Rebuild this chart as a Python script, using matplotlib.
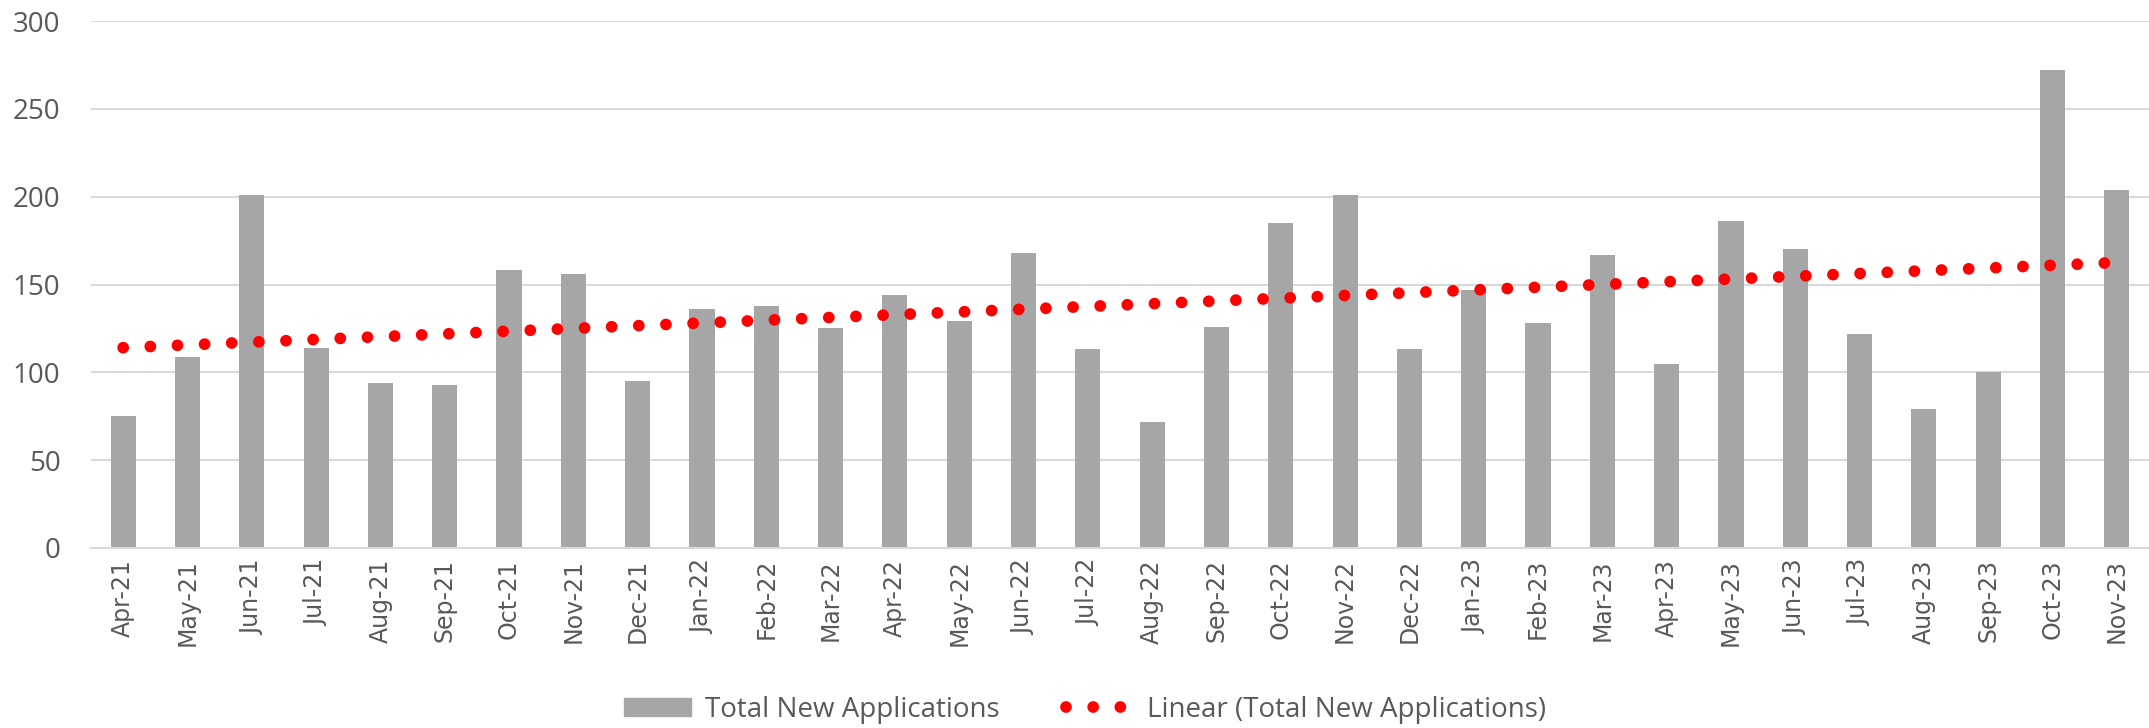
import numpy as np
import matplotlib
matplotlib.use('Agg')
from matplotlib import pyplot as plt
from matplotlib.lines import Line2D
from matplotlib.patches import Patch

months = ['Apr-21', 'May-21', 'Jun-21', 'Jul-21', 'Aug-21', 'Sep-21', 'Oct-21', 'Nov-21',
          'Dec-21', 'Jan-22', 'Feb-22', 'Mar-22', 'Apr-22', 'May-22', 'Jun-22', 'Jul-22',
          'Aug-22', 'Sep-22', 'Oct-22', 'Nov-22', 'Dec-22', 'Jan-23', 'Feb-23', 'Mar-23',
          'Apr-23', 'May-23', 'Jun-23', 'Jul-23', 'Aug-23', 'Sep-23', 'Oct-23', 'Nov-23']
applications = [75, 109, 201, 114, 94, 93, 158, 156,
                95, 136, 138, 125, 144, 129, 168, 113,
                72, 126, 185, 201, 113, 147, 128, 167,
                105, 186, 170, 122, 79, 100, 272, 204]
y_ticks = [0, 50, 100, 150, 200, 250, 300]

narrow = ['Liberation Sans Narrow', 'Open Sans', 'DejaVu Sans']
grey_text = '#595959'
dot_style = (0, (0.001, 2.3))

x = np.arange(len(months))
# linear trendline, same as excel does it
slope, icpt = np.polyfit(x, applications, 1)
trend = slope * x + icpt

fig = plt.figure(figsize=[21.49, 7.28], dpi=100)
ax = fig.add_axes([91 / 2149, 1 - 548 / 728, 1 - 91 / 2149, (548 - 21) / 728])

ax.bar(x, applications, width=0.39, color='#a6a6a6', zorder=2)
ax.plot(x, trend, color='#ff0000', lw=8.5, linestyle=dot_style,
        dash_capstyle='round', zorder=3)

ax.set_xlim(-0.5, len(months) - 0.5)
ax.set_ylim(0, 300)
ax.set_yticks(y_ticks)
ax.set_yticklabels([str(v) for v in y_ticks], family=narrow, fontsize=20, color=grey_text)
ax.set_xticks(x)
ax.set_xticklabels(months, rotation=90, fontsize=17, color=grey_text, family='DejaVu Sans')
ax.tick_params(axis='both', length=0)
ax.tick_params(axis='y', pad=22)
ax.tick_params(axis='x', pad=8)

ax.grid(axis='y', color='#d9d9d9', lw=1.5, zorder=0)
ax.set_axisbelow(True)
for side in ['top', 'right', 'left']:
    ax.spines[side].set_visible(False)
ax.spines['bottom'].set_color('#d9d9d9')
ax.spines['bottom'].set_linewidth(1.5)

handles = [Patch(color='#a6a6a6', label='Total New Applications'),
           Line2D([0], [0], color='#ff0000', lw=8.5, linestyle=dot_style,
                  dash_capstyle='round', label='Linear (Total New Applications)')]
fig.legend(handles=handles, loc='center', bbox_to_anchor=(0.505, 0.025), ncol=2, frameon=False,
           prop={'family': narrow, 'size': 20}, labelcolor=grey_text, handlelength=2.4,
           handleheight=0.6, handletextpad=0.5, columnspacing=2.4)

fig.savefig('out.png', dpi=100)
